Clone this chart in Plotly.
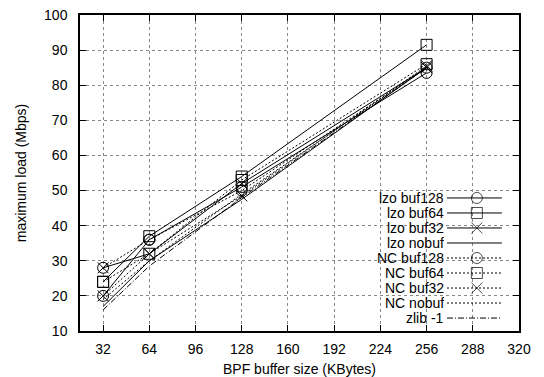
import plotly.graph_objects as go

buf_sizes = [32, 64, 128, 256]

lzo_buf128 = [20, 36, 51, 83.5]
lzo_buf64 = [24, 37, 54, 91.5]
lzo_buf32 = [28, 32, 52, 85]
lzo_nobuf = [17, 30, 47.5, 85]
nc_buf128 = [28, 36, 50, 85]
nc_buf64 = [24, 32, 53, 86]
nc_buf32 = [20, 32, 48.5, 85.5]
nc_nobuf = [19, 30, 49, 85]
zlib_1 = [16, 28.5, 48, 85]

x_ticks = [32, 64, 96, 128, 160, 192, 224, 256, 288, 320]
y_ticks = [10, 20, 30, 40, 50, 60, 70, 80, 90, 100]

series = [
    ("lzo buf128", lzo_buf128, "solid", "circle-open"),
    ("lzo buf64", lzo_buf64, "solid", "square-open"),
    ("lzo buf32", lzo_buf32, "solid", "x-thin-open"),
    ("lzo nobuf", lzo_nobuf, "solid", None),
    ("NC buf128", nc_buf128, "2px,2px", "circle-open"),
    ("NC buf64", nc_buf64, "2px,2px", "square-open"),
    ("NC buf32", nc_buf32, "2px,2px", "x-thin-open"),
    ("NC nobuf", nc_nobuf, "2px,2px", None),
    ("zlib -1", zlib_1, "6px,2px,1px,2px", None),
]

FONT = "Liberation Sans, Arial, Helvetica, sans-serif"
fig = go.Figure()

for name, vals, dash, sym in series:
    if sym:
        fig.add_trace(go.Scatter(
            x=buf_sizes, y=vals, mode="lines+markers", name=name,
            line=dict(color="black", width=1, dash=dash),
            marker=dict(symbol=sym, size=11, color="black", line=dict(width=1, color="black")),
            showlegend=False))
    else:
        fig.add_trace(go.Scatter(
            x=buf_sizes, y=vals, mode="lines", name=name,
            line=dict(color="black", width=1, dash=dash), showlegend=False))

# custom legend (text right-aligned, sample on the right, gnuplot style)
lx0, lxm, lx1 = 0.836, 0.904, 0.961
ly_top, ly_step = 0.421, 0.0475
annotations = []
for i, (name, vals, dash, sym) in enumerate(series):
    yy = ly_top - i * ly_step
    if sym:
        fig.add_trace(go.Scatter(
            x=[lx0, lxm, lx1], y=[yy, yy, yy], mode="lines+markers",
            xaxis="x2", yaxis="y2", hoverinfo="skip", showlegend=False,
            line=dict(color="black", width=1, dash=dash),
            marker=dict(symbol=sym, size=[0, 11, 0], color="black", line=dict(width=1, color="black"))))
    else:
        fig.add_trace(go.Scatter(
            x=[lx0, lx1], y=[yy, yy], mode="lines",
            xaxis="x2", yaxis="y2", hoverinfo="skip", showlegend=False,
            line=dict(color="black", width=1, dash=dash)))
    annotations.append(dict(x=0.831, y=yy, xref="paper", yref="paper", text=name,
                            showarrow=False, xanchor="right", yanchor="middle",
                            height=14, borderpad=0,
                            font=dict(family=FONT, size=14, color="black")))

fig.update_layout(
    width=544, height=377,
    margin=dict(l=80, r=25, t=15, b=46),
    paper_bgcolor="white", plot_bgcolor="white",
    font=dict(family=FONT, size=14, color="black"),
    annotations=annotations,
    xaxis=dict(range=[16, 320], tickvals=x_ticks, ticktext=[str(v) for v in x_ticks],
               ticks="inside", ticklen=6, tickcolor="black", mirror="allticks",
               showline=True, linecolor="black", linewidth=1.5,
               showgrid=True, gridcolor="#888888", griddash="dot", gridwidth=1,
               zeroline=False, ticklabelstandoff=4, automargin=False,
               title=dict(text="BPF buffer size (KBytes)", standoff=12,
                          font=dict(family=FONT, size=14))),
    yaxis=dict(range=[10, 100], tickvals=y_ticks, ticktext=[str(v) for v in y_ticks],
               ticks="inside", ticklen=6, tickcolor="black", mirror="allticks",
               showline=True, linecolor="black", linewidth=1.5,
               showgrid=True, gridcolor="#888888", griddash="dot", gridwidth=1,
               zeroline=False, ticklabelstandoff=8, automargin=False,
               title=dict(text="maximum load (Mbps)", standoff=14,
                          font=dict(family=FONT, size=14))),
    xaxis2=dict(overlaying="x", range=[0, 1], visible=False, fixedrange=True),
    yaxis2=dict(overlaying="y", range=[0, 1], visible=False, fixedrange=True),
)

fig.write_html("out.html")
